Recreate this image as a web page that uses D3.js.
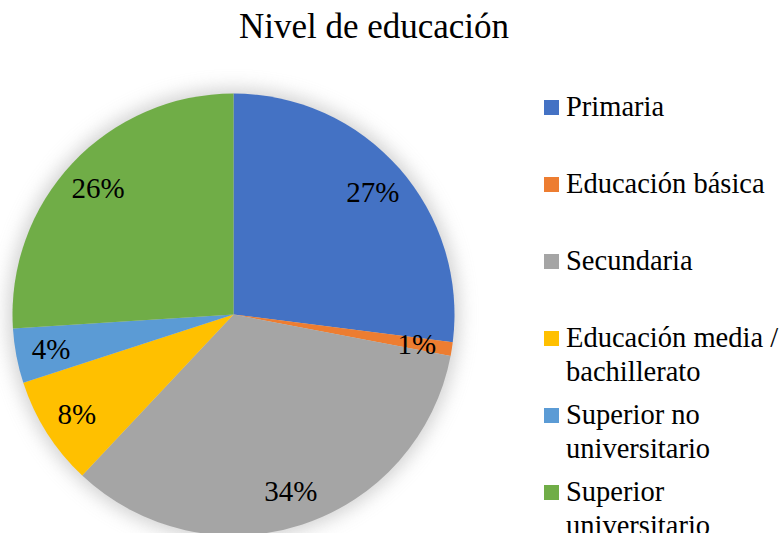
<!DOCTYPE html>
<html>
<head>
<meta charset="utf-8">
<script src="https://cdn.jsdelivr.net/npm/d3@7"></script>
<style>
  body { margin: 0; background: #fff; }
  svg text, svg tspan { font-family: "Liberation Serif", "Times New Roman", Times, serif; fill: #000; }
</style>
</head>
<body>
<div class="chart-area"></div>
<script>
// data
var categories = ["Primaria", "Educación básica", "Secundaria", "Educación media / bachillerato", "Superior no universitario", "Superior universitario"];
var legendLines = [["Primaria"], ["Educación básica"], ["Secundaria"], ["Educación media /", "bachillerato"], ["Superior no", "universitario"], ["Superior", "universitario"]];
var values = [27, 1, 34, 8, 4, 26];
var colors = ["#4472C4", "#ED7D31", "#A5A5A5", "#FFC000", "#5B9BD5", "#70AD47"];

var width = 784, height = 533;
var cx = 233.5, cy = 314.5, radius = 221;
var serif = "'Liberation Serif', 'Times New Roman', serif";

var svg = d3.select(".chart-area").append("svg")
    .attr("width", width)
    .attr("height", height)
    .attr("font-family", serif);

// soft shadow around the pie
var defs = svg.append("defs");
var filter = defs.append("filter")
    .attr("id", "glow")
    .attr("x", "-20%").attr("y", "-20%")
    .attr("width", "140%").attr("height", "140%");
filter.append("feGaussianBlur")
    .attr("in", "SourceGraphic")
    .attr("stdDeviation", 9);

// title
svg.append("text")
    .attr("x", 374)
    .attr("y", 38)
    .attr("text-anchor", "middle")
    .style("font-family", serif)
    .style("font-size", "35px")
    .text("Nivel de educación");

var g = svg.append("g")
    .attr("transform", "translate(" + cx + "," + cy + ")");

g.append("circle")
    .attr("r", radius + 5)
    .attr("fill", "#b5b5b5")
    .attr("opacity", 0.6)
    .attr("filter", "url(#glow)");

var pie = d3.pie().sort(null).value(function(d) { return d; });
var arcs = pie(values);

var arc = d3.arc().innerRadius(0).outerRadius(radius);
var labelArc = d3.arc().innerRadius(radius * 0.84).outerRadius(radius * 0.84);

g.selectAll("path")
    .data(arcs)
    .enter()
    .append("path")
    .attr("d", arc)
    .attr("fill", function(d, i) { return colors[i]; });

var total = d3.sum(values);
g.selectAll("text.pct")
    .data(arcs)
    .enter()
    .append("text")
    .attr("class", "pct")
    .attr("transform", function(d) { return "translate(" + labelArc.centroid(d) + ")"; })
    .attr("text-anchor", "middle")
    .attr("dy", "0.35em")
    .style("font-family", serif)
    .style("font-size", "29px")
    .text(function(d) { return Math.round(d.value / total * 100) + "%"; });

// legend
var legendY = d3.scalePoint()
    .domain(categories)
    .range([116, 501]);

var legend = svg.selectAll("g.legend")
    .data(categories)
    .enter()
    .append("g")
    .attr("class", "legend")
    .attr("transform", function(d) { return "translate(544," + legendY(d) + ")"; });

legend.append("rect")
    .attr("x", 0)
    .attr("y", -16)
    .attr("width", 15)
    .attr("height", 15)
    .attr("fill", function(d, i) { return colors[i]; });

legend.append("text")
    .attr("x", 22)
    .attr("y", 0)
    .style("font-family", serif)
    .style("font-size", "28.5px")
    .each(function(d, i) {
        var t = d3.select(this);
        legendLines[i].forEach(function(line, j) {
            t.append("tspan")
                .attr("x", 22)
                .attr("y", j * 33.5)
                .text(line);
        });
    });
</script>
</body>
</html>
